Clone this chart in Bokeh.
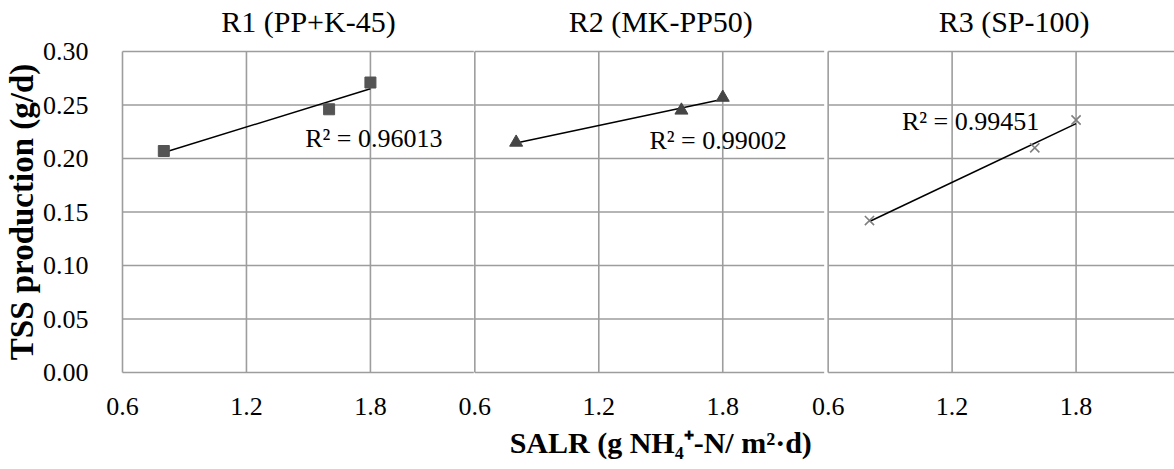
import numpy as np
from bokeh.plotting import figure
from bokeh.models import Range1d, LinearAxis, FixedTicker, Label, NumeralTickFormatter
from bokeh.embed import file_html
from bokeh.resources import INLINE

# Surface ammonium loading rate, g NH4+-N/(m2·d)
salr = [0.8, 1.6, 1.8]
# TSS production, g/d, for each reactor
tss_r1 = [0.207, 0.246, 0.271]
tss_r2 = [0.215, 0.245, 0.257]
tss_r3 = [0.142, 0.210, 0.236]
reactor_titles = ["R1 (PP+K-45)", "R2 (MK-PP50)", "R3 (SP-100)"]
r_squared_text = ["R² = 0.96013", "R² = 0.99002", "R² = 0.99451"]
x_ticks = [0.6, 1.2, 1.8]
x_tick_labels = ["0.6", "1.2", "1.8"]
y_ticks = [0.00, 0.05, 0.10, 0.15, 0.20, 0.25, 0.30]
x_title = "SALR (g NH₄⁺-N/ m²·d)"
y_title = "TSS production (g/d)"

# ---- page geometry -------------------------------------------------------
W, H = 1174, 469
X0 = 0.6                      # left end of every panel's x axis
X_FULL = 2.4                  # nominal right end of a panel's axis
PX_PER_X = 207.0              # horizontal scale, px per SALR unit
panel_left_px = [120, 473, 827]   # page x of each panel's 0.6
panel_width_px = [352, 350, 347]  # visible part of each panel
Y0_PX, PX_PER_Y = 372, 1070.0     # page y of 0.00, px per g/d
PAD = 3                           # keeps border lines from being clipped

frame_left = panel_left_px[0] - PAD
frame_top = int(Y0_PX - 0.30 * PX_PER_Y) - PAD
frame_bottom = Y0_PX + PAD

FONT = "Liberation Serif"
GRID = "#9d9d9d"
TXT = "#000000"


def page_to_x(px):
    """Page x position expressed on the first panel's x scale."""
    return X0 + (px - panel_left_px[0]) / PX_PER_X


def panel_center(k):
    """Centre of panel k's nominal 0.6-2.4 axis, on the first panel's scale."""
    return round(page_to_x(panel_left_px[k]) + (X_FULL - X0) / 2, 6)


p = figure(
    width=W, height=H, output_backend="svg", toolbar_location=None,
    x_range=Range1d(page_to_x(frame_left), page_to_x(W)),
    y_range=Range1d((Y0_PX - frame_bottom) / PX_PER_Y,
                    (Y0_PX - frame_top) / PX_PER_Y),
    x_axis_type=None, y_axis_type=None,
    min_border_left=frame_left, min_border_right=0,
    min_border_top=frame_top, min_border_bottom=H - frame_bottom,
    outline_line_color=None, background_fill_color="white",
    border_fill_color="white",
)

names = ["r1", "r2", "r3"]
p.extra_x_ranges = {
    n: Range1d(X0 + (frame_left - left) / PX_PER_X, X0 + (W - left) / PX_PER_X)
    for n, left in zip(names, panel_left_px)
}

# ---- panel frames and grid lines -------------------------------------------
for n, wpx in zip(names, panel_width_px):
    x_end = X0 + wpx / PX_PER_X
    p.segment(x0=[X0] * len(y_ticks), y0=y_ticks, x1=[x_end] * len(y_ticks),
              y1=y_ticks, x_range_name=n, line_color=GRID, line_width=1.6)
    p.segment(x0=x_ticks, y0=[y_ticks[0]] * len(x_ticks), x1=x_ticks,
              y1=[y_ticks[-1]] * len(x_ticks), x_range_name=n,
              line_color=GRID, line_width=1.6)

# ---- data, trend lines -----------------------------------------------------
series = [
    (tss_r1, "square", 11, "#545454", 0),
    (tss_r2, "triangle", 13, "#454545", 0),
    (tss_r3, "x", 13, "#7f7f7f", 1.6),
]
for n, (ys, marker, size, color, lw) in zip(names, series):
    slope, icpt = np.polyfit(salr, ys, 1)
    xs_fit = [min(salr), max(salr)]
    p.line(x=xs_fit, y=[slope * x + icpt for x in xs_fit], x_range_name=n,
           line_color="black", line_width=1.5)
    if marker == "x":
        p.scatter(x=salr, y=ys, marker=marker, size=size, line_color=color,
                  line_width=lw, x_range_name=n)
    else:
        p.scatter(x=salr, y=ys, marker=marker, size=size, fill_color=color,
                  line_color=color, x_range_name=n)

# ---- axes ------------------------------------------------------------------
bare = dict(axis_line_color=None, major_tick_line_color=None,
            minor_tick_line_color=None, major_label_text_font=FONT,
            major_label_text_color=TXT)

yaxis = LinearAxis(
    ticker=FixedTicker(ticks=y_ticks),
    formatter=NumeralTickFormatter(format="0.00"),
    axis_label=y_title,
    axis_label_text_font=FONT, axis_label_text_font_style="bold",
    axis_label_text_font_size="33px", axis_label_text_color=TXT,
    axis_label_standoff=0,
    major_label_text_font_size="26px", major_label_standoff=PAD + 22,
    **bare,
)
p.add_layout(yaxis, "left")

tick_pos, overrides = [], {}
for left in panel_left_px:
    for t, lab in zip(x_ticks, x_tick_labels):
        pos = round(t + (left - panel_left_px[0]) / PX_PER_X, 6)
        tick_pos.append(pos)
        overrides[pos] = lab
xaxis = LinearAxis(
    ticker=FixedTicker(ticks=tick_pos), major_label_overrides=overrides,
    major_label_text_font_size="26px", major_label_standoff=PAD + 13,
    **bare,
)
p.add_layout(xaxis, "below")

# shared x-axis title, centred under the middle panel
x_title_pos = panel_center(1)
xtitle_axis = LinearAxis(
    ticker=FixedTicker(ticks=[x_title_pos]),
    major_label_overrides={x_title_pos: x_title},
    major_label_text_font_size="30px", major_label_text_font_style="bold",
    major_label_standoff=2,
    **bare,
)
p.add_layout(xtitle_axis, "below")

# panel titles along the top edge
title_pos = [panel_center(k) for k in range(3)]
title_axis = LinearAxis(
    ticker=FixedTicker(ticks=title_pos),
    major_label_overrides=dict(zip(title_pos, reactor_titles)),
    major_label_text_font_size="30px", major_label_standoff=5,
    **bare,
)
p.add_layout(title_axis, "above")

# coefficient of determination for each linear fit
r2_pos = [(1.484, 0.2187), (1.445, 0.2168), (0.957, 0.2346)]
for n, (rx, ry), txt in zip(names, r2_pos, r_squared_text):
    p.add_layout(Label(x=rx, y=ry, x_range_name=n, text=txt, text_font=FONT,
                       text_font_size="26px", text_color=TXT,
                       text_align="left", text_baseline="middle"))

open("out.html", "w").write(file_html(p, INLINE))
